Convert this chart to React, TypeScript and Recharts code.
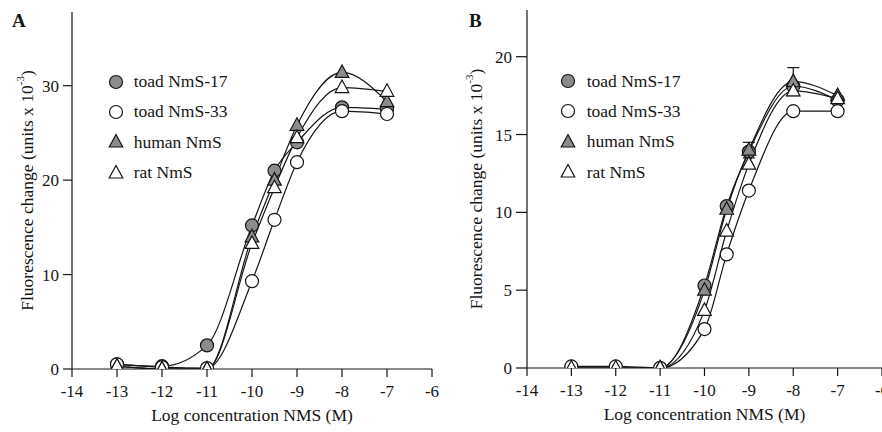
import React from 'react';
import { LineChart, Line, XAxis, YAxis, Legend, ErrorBar } from 'recharts';

// log concentration of NMS (M) used for every series
const concentrations = [-13, -12, -11, -10, -9.5, -9, -8, -7];
const xTicks = [-14, -13, -12, -11, -10, -9, -8, -7, -6];

// Panel A (units x 10^-3)
const aToad17 = [0.5, 0.3, 2.5, 15.2, 21.0, 24.0, 27.7, 27.5];
const aToad33 = [0.5, 0.2, 0.1, 9.3, 15.8, 21.9, 27.3, 27.0];
const aHuman = [0.3, 0.0, 0.0, 14.0, 20.0, 25.8, 31.4, 28.3];
const aRat = [0.3, 0.0, 0.0, 13.3, 19.2, 24.5, 29.8, 29.4];
const aYTicks = [0, 10, 20, 30];

// Panel B (units x 10^-3)
const bToad17 = [0.0, 0.0, 0.0, 5.3, 10.4, 13.9, 18.1, 17.2];
const bToad33 = [0.1, 0.1, 0.0, 2.5, 7.3, 11.4, 16.5, 16.5];
const bHuman = [-0.1, -0.1, 0.0, 5.0, 10.2, 14.0, 18.4, 17.5];
const bHumanErr = [0, 0, 0, 0, 0, 0.5, 0.9, 0];
const bRat = [0.0, 0.0, 0.0, 3.7, 8.8, 13.1, 17.8, 17.3];
const bYTicks = [0, 5, 10, 15, 20];

const seriesNames = ['toad NmS-17', 'toad NmS-33', 'human NmS', 'rat NmS'];

const FONT = '"Liberation Serif", "Times New Roman", serif';
const INK = '#151515';
const GREY = '#8c8c8c';

type Shape = 'circleFill' | 'circleOpen' | 'triFill' | 'triOpen';
const shapes: Shape[] = ['circleFill', 'circleOpen', 'triFill', 'triOpen'];

const toRows = (ys: number[], err?: number[]) =>
  concentrations.map((x, i) => ({ x, y: ys[i], err: err ? err[i] : 0 }));

const MarkerShape = ({ cx, cy, shape }: { cx: number; cy: number; shape: Shape }) => {
  const fill = shape === 'circleFill' || shape === 'triFill' ? GREY : '#ffffff';
  if (shape === 'circleFill' || shape === 'circleOpen') {
    return <circle cx={cx} cy={cy} r={6.5} fill={fill} stroke={INK} strokeWidth={1.2} />;
  }
  const pts = `${cx},${cy - 7.5} ${cx - 6.8},${cy + 5} ${cx + 6.8},${cy + 5}`;
  return <polygon points={pts} fill={fill} stroke={INK} strokeWidth={1.2} strokeLinejoin="miter" />;
};

const makeDot = (shape: Shape) => (props: any) => {
  const { cx, cy, index } = props;
  if (cx == null || cy == null) return <g key={`d-${index}`} />;
  return (
    <g key={`d-${shape}-${index}`}>
      <MarkerShape cx={cx} cy={cy} shape={shape} />
    </g>
  );
};

const makeLegend = (textGap: number) => () => (
  <div style={{ fontFamily: FONT, fontSize: 17.5, color: INK }}>
    {seriesNames.map((name, i) => (
      <div key={name} style={{ display: 'flex', alignItems: 'center', height: 30.3 }}>
        <svg width={20} height={20} style={{ display: 'block' }}>
          <MarkerShape cx={10} cy={10} shape={shapes[i]} />
        </svg>
        <span style={{ marginLeft: textGap, whiteSpace: 'nowrap' }}>{name}</span>
      </div>
    ))}
  </div>
);

const YTitle = (props: any) => {
  const { viewBox, shift } = props;
  const cx = viewBox.x + viewBox.width / 2 + shift;
  const cy = viewBox.y + viewBox.height / 2;
  return (
    <text
      x={cx}
      y={cy}
      transform={`rotate(-90 ${cx} ${cy})`}
      textAnchor="middle"
      dominantBaseline="central"
      fontFamily={FONT}
      fontSize={17.5}
      fill={INK}
    >
      Fluorescence change (units x 10
      <tspan dy={-7} fontSize={11}>-3</tspan>
      <tspan dy={7}>)</tspan>
    </text>
  );
};

const XTitle = (props: any) => {
  const { viewBox, baseline } = props;
  const cx = viewBox.x + viewBox.width / 2;
  return (
    <text x={cx} y={viewBox.y + baseline} textAnchor="middle" fontFamily={FONT} fontSize={17.5} fill={INK}>
      Log concentration NMS (M)
    </text>
  );
};

interface PanelProps {
  series: number[][];
  yDomain: [number, number];
  yTicks: number[];
  yAxisWidth: number;
  yTickSize: number;
  marginTop: number;
  marginRight: number;
  xAxisHeight: number;
  yTitleShift: number;
  legendLeft: number;
  legendTop: number;
  legendGap: number;
  errors?: number[];
}

const Panel = (p: PanelProps) => {
  const tickStyle = { fontFamily: FONT, fontSize: 17, fill: INK };
  return (
    <LineChart
      width={441}
      height={432}
      margin={{ top: p.marginTop, right: p.marginRight, left: 0, bottom: 0 }}
    >
      <XAxis
        type="number"
        dataKey="x"
        domain={[-14, -6]}
        ticks={xTicks}
        allowDataOverflow
        height={p.xAxisHeight}
        tick={tickStyle}
        tickSize={8}
        tickMargin={8}
        stroke={INK}
        strokeWidth={1.2}
        interval={0}
        label={<XTitle baseline={52} />}
      />
      <YAxis
        type="number"
        domain={p.yDomain}
        ticks={p.yTicks}
        allowDataOverflow
        width={p.yAxisWidth}
        tick={tickStyle}
        tickSize={p.yTickSize}
        tickMargin={4}
        stroke={INK}
        strokeWidth={1.2}
        interval={0}
        label={<YTitle shift={p.yTitleShift} />}
      />
      <Legend
        layout="vertical"
        align="center"
        verticalAlign="middle"
        wrapperStyle={{ left: p.legendLeft, top: p.legendTop, width: 'auto' }}
        content={makeLegend(p.legendGap)}
      />
      {p.series.map((ys, i) => (
        <Line
          key={seriesNames[i]}
          name={seriesNames[i]}
          data={toRows(ys, i === 2 ? p.errors : undefined)}
          dataKey="y"
          type="monotone"
          stroke={INK}
          strokeWidth={1.2}
          dot={makeDot(shapes[i])}
          activeDot={false}
          isAnimationActive={false}
        >
          {i === 2 && p.errors ? (
            <ErrorBar dataKey="err" direction="y" width={6} stroke={INK} strokeWidth={1.2} />
          ) : null}
        </Line>
      ))}
    </LineChart>
  );
};

const letterStyle: React.CSSProperties = {
  position: 'absolute',
  top: 10,
  fontFamily: FONT,
  fontWeight: 'bold',
  fontSize: 19,
  color: INK,
};

export default function App() {
  return (
    <div
      style={{
        position: 'absolute',
        left: 0,
        top: 0,
        width: 882,
        height: 432,
        background: '#ffffff',
        overflow: 'hidden',
        display: 'flex',
      }}
    >
      <div style={{ position: 'relative', width: 441, height: 432 }}>
        <Panel
          series={[aToad17, aToad33, aHuman, aRat]}
          yDomain={[0, 37.8]}
          yTicks={aYTicks}
          yAxisWidth={72}
          yTickSize={9}
          marginTop={12}
          marginRight={9}
          xAxisHeight={63}
          yTitleShift={-9}
          legendLeft={105.7}
          legendTop={66.5}
          legendGap={8}
        />
        <div style={{ ...letterStyle, left: 12 }}>A</div>
      </div>
      <div style={{ position: 'relative', width: 441, height: 432 }}>
        <Panel
          series={[bToad17, bToad33, bHuman, bRat]}
          yDomain={[0, 23]}
          yTicks={bYTicks}
          yAxisWidth={86}
          yTickSize={11}
          marginTop={10}
          marginRight={0}
          xAxisHeight={64}
          yTitleShift={-8}
          legendLeft={116.7}
          legendTop={66}
          legendGap={9}
          errors={bHumanErr}
        />
        <div style={{ ...letterStyle, left: 28 }}>B</div>
      </div>
    </div>
  );
}
